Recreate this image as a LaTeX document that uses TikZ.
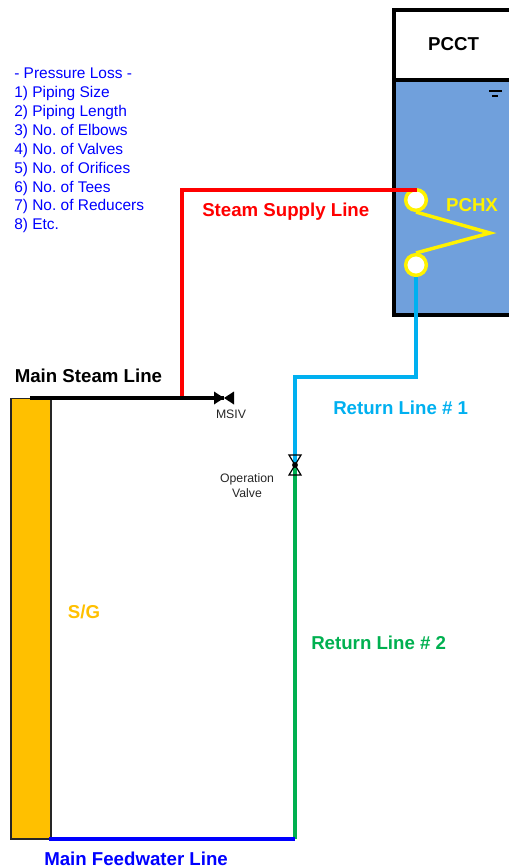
\documentclass[tikz,border=0pt]{standalone}
\usepackage{fontspec}
\setmainfont{Liberation Sans}
\usepackage{xcolor}
\usetikzlibrary{positioning,calc}

\definecolor{poolblue}{HTML}{70A0DC}
\definecolor{sgorange}{HTML}{FFC000}
\definecolor{linecyan}{HTML}{00B0F0}
\definecolor{linegreen}{HTML}{00B050}

\begin{document}
\begin{tikzpicture}[
    x=0.75pt, y=-0.75pt,
    pipe/.style={line width=2.3pt},
    wall/.style={line width=2.3pt, line join=miter},
    tube/.style={circle, draw=yellow, fill=white, line width=2.6pt, minimum size=15.5pt, inner sep=0pt},
    coil/.style={draw=yellow, line width=2.6pt},
    title/.style={font=\bfseries\fontsize{14}{16}\selectfont, inner sep=0pt},
    small/.style={font=\fontsize{9.2}{11.2}\selectfont, align=center, text=black!85},
    lossline/.style={font=\frenchspacing\fontsize{11.6}{14.15}\selectfont, align=left, text=blue}
]
\useasboundingbox (0,0) rectangle (509,868);

% Pool
\fill[poolblue] (394,80) rectangle (509,315);
\draw[wall] (509,10) -| (394,315) -- (509,315);
\draw[wall] (394,80) -- (509,80);
\node[title] (pcct) at (453.5,44) {PCCT};
\draw[line width=0.9pt] (489,91) -- (502,91);
\draw[line width=0.9pt] (492,96) -- (498,96);

% Steam generator
\node[draw=black!85, fill=sgorange, line width=0.8pt, minimum width=30pt, minimum height=330.7pt, inner sep=0pt] (sg) at (31,618.5) {};
\node[title, text=sgorange] (sglabel) at (84,611.5) {S/G};

% Junctions
\coordinate (steamstart) at (30,398);
\coordinate (tee) at (182,398);
\coordinate (msiv) at (224,398);
\coordinate (supplyend) at (417,190);
\coordinate (opvalve) at (295,465);
\coordinate (fwstart) at (49,839);
\coordinate (fwend) at (295,839);

% PCHX
\node[tube] (upper) at (416,200) {};
\node[tube] (lower) at (416,265) {};
\coordinate (tip) at (490,233);
\draw[coil, line join=miter] (upper.south) -- (tip) -- (lower.north);
\node[title, text=yellow] (pchx) at (472,205) {PCHX};

% Lines
\draw[pipe, red] (tee) |- (supplyend);
\draw[pipe, black] (steamstart) -- (msiv);
\draw[pipe, linecyan] (lower.south) |- (opvalve |- 0,377) -- (opvalve);
\draw[pipe, linegreen] (opvalve) -- (fwend);
\draw[pipe, blue] (fwstart) -- (fwend);

% Valves
\fill[black] ($(msiv)+(-10,-6.5)$) -- ($(msiv)+(10,6.5)$) -- ($(msiv)+(10,-6.5)$) -- ($(msiv)+(-10,6.5)$) -- cycle;
\draw[line width=0.9pt] ($(opvalve)+(-6,-10)$) -- ($(opvalve)+(6,-10)$) -- ($(opvalve)+(-6,10)$) -- ($(opvalve)+(6,10)$) -- cycle;
\fill[black] (opvalve) circle (2.2pt);

% Labels
\node[title, anchor=west] (mainsteam) at (14.5,376) {Main Steam Line};
\node[title, anchor=west, text=red] (supply) at (202,212) {Steam Supply Line};
\node[title, anchor=west, text=linecyan] (return1) at (333,407.5) {Return Line \# 1};
\node[title, anchor=west, text=linegreen] (return2) at (311,642.5) {Return Line \# 2};
\node[title, anchor=west, text=blue] (feedwater) at (44,858.5) {Main Feedwater Line};
\node[small] (msivlabel) at (231,414) {MSIV};
\node[small] (oplabel) at (247,485.5) {Operation\\Valve};
\node[lossline, anchor=north west, inner sep=0pt] (loss) at (14,68) {- Pressure Loss -\\1) Piping Size\\2) Piping Length\\3) No. of Elbows\\4) No. of Valves\\5) No. of Orifices\\6) No. of Tees\\7) No. of Reducers\\8) Etc.};

\end{tikzpicture}
\end{document}
